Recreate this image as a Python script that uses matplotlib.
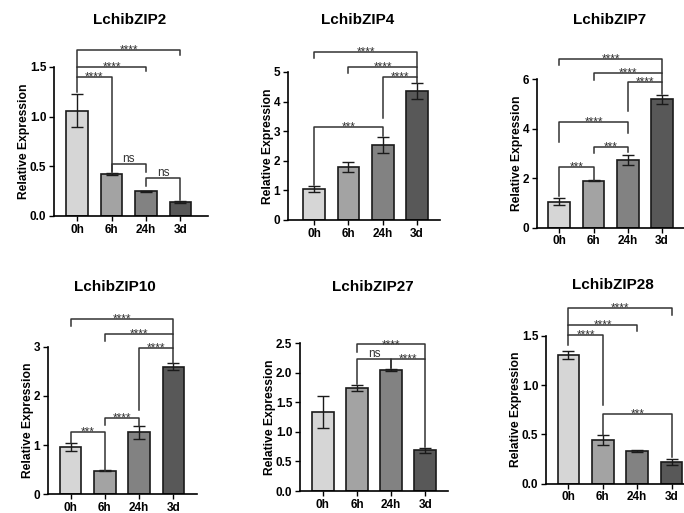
import matplotlib
matplotlib.use('Agg')
import matplotlib.pyplot as plt
from matplotlib.transforms import offset_copy

plt.rcParams['font.family'] = ['Liberation Sans', 'DejaVu Sans']

times = ['0h', '6h', '24h', '3d']
genes = ['LchibZIP2', 'LchibZIP4', 'LchibZIP7', 'LchibZIP10', 'LchibZIP27', 'LchibZIP28']

zip2_mean = [1.06, 0.42, 0.25, 0.14]
zip2_err = [0.165, 0.01, 0.005, 0.01]
zip4_mean = [1.05, 1.78, 2.52, 4.35]
zip4_err = [0.10, 0.17, 0.27, 0.27]
zip7_mean = [1.05, 1.90, 2.72, 5.20]
zip7_err = [0.15, 0.03, 0.20, 0.18]
zip10_mean = [0.96, 0.48, 1.26, 2.59]
zip10_err = [0.08, 0.01, 0.13, 0.07]
zip27_mean = [1.33, 1.74, 2.05, 0.69]
zip27_err = [0.27, 0.05, 0.02, 0.04]
zip28_mean = [1.30, 0.44, 0.33, 0.22]
zip28_err = [0.04, 0.05, 0.01, 0.035]

# significance: (group a, group b, label)
zip2_sig = [(0, 3, '****'), (0, 2, '****'), (0, 1, '****'), (1, 2, 'ns'), (2, 3, 'ns')]
zip4_sig = [(0, 3, '****'), (1, 3, '****'), (2, 3, '****'), (0, 2, '***')]
zip7_sig = [(0, 3, '****'), (1, 3, '****'), (2, 3, '****'), (0, 2, '****'), (1, 2, '***'), (0, 1, '***')]
zip10_sig = [(0, 3, '****'), (1, 3, '****'), (2, 3, '****'), (1, 2, '****'), (0, 1, '***')]
zip27_sig = [(1, 3, '****'), (1, 2, 'ns'), (2, 3, '****')]
zip28_sig = [(0, 3, '****'), (0, 2, '****'), (0, 1, '****'), (1, 3, '***')]

# bracket geometry: (bar y, left leg end, right leg end)
zip2_br = [(1.67, 1.50, 1.62), (1.50, 1.40, 1.46), (1.40, 1.25, 0.43), (0.52, 0.45, 0.44), (0.38, 0.30, 0.16)]
zip4_br = [(5.69, 5.46, 5.18), (5.18, 4.97, 4.82), (4.82, 3.43, 4.62), (3.15, 1.18, 2.83)]
zip7_br = [(6.82, 6.59, 6.25), (6.25, 5.98, 5.89), (5.89, 4.70, 5.42), (4.27, 3.48, 3.82),
           (3.28, 3.01, 3.06), (2.45, 1.30, 1.93)]
zip10_br = [(3.56, 3.43, 3.25), (3.25, 3.11, 2.97), (2.97, 1.71, 2.66), (1.56, 1.41, 1.39), (1.27, 1.05, 0.48)]
zip27_br = [(2.48, 2.36, 2.23), (2.23, 1.81, 2.08), (2.23, 2.08, 0.74)]
zip28_br = [(1.78, 1.61, 1.71), (1.61, 1.51, 1.55), (1.51, 1.41, 0.80), (0.71, 0.49, 0.27)]

means = [zip2_mean, zip4_mean, zip7_mean, zip10_mean, zip27_mean, zip28_mean]
errs = [zip2_err, zip4_err, zip7_err, zip10_err, zip27_err, zip28_err]
sigs = [zip2_sig, zip4_sig, zip7_sig, zip10_sig, zip27_sig, zip28_sig]
brs = [zip2_br, zip4_br, zip7_br, zip10_br, zip27_br, zip28_br]

W, H = 684, 513
# axes boxes in pixels: left, top, right, bottom
boxes = [(54, 67, 208, 216), (288, 72, 440, 220), (537, 79.3, 684, 227.7),
         (48, 346.7, 197, 494.3), (300, 343.3, 448, 491), (546, 335.7, 684, 483.7)]
xlims = [(-0.67, 3.8), (-0.76, 3.67), (-0.65, 3.64), (-0.66, 3.69), (-0.67, 3.67), (-0.65, 3.36)]
ylims = [1.5, 5, 6, 3, 2.5, 1.5]
yticks = [[0, 0.5, 1.0, 1.5], [0, 1, 2, 3, 4, 5], [0, 2, 4, 6], [0, 1, 2, 3],
          [0, 0.5, 1.0, 1.5, 2.0, 2.5], [0, 0.5, 1.0, 1.5]]
yfmt = ['%.1f', '%d', '%d', '%d', '%.1f', '%.1f']
titles_px = [(130, 20), (358, 20), (610, 20), (115, 287), (373, 287), (613, 285)]
colors = ['#d6d6d6', '#a3a3a3', '#828282', '#585858']

fig = plt.figure(figsize=(W / 100, H / 100), dpi=100)

for k in range(6):
    l, t, r, b = boxes[k]
    ax = fig.add_axes([l / W, 1 - b / H, (r - l) / W, (b - t) / H])
    x = list(range(4))
    ax.bar(x, means[k], width=0.63, color=colors, edgecolor='#1a1a1a', linewidth=1.2, zorder=2)
    ax.errorbar(x, means[k], yerr=errs[k], fmt='none', ecolor='#1a1a1a', elinewidth=1.0,
                capsize=4.3, capthick=1.0, zorder=3)
    ax.set_xlim(*xlims[k])
    ax.set_ylim(0, ylims[k])
    ax.set_xticks(x)
    ax.set_xticklabels(times, fontsize=8.5, fontweight='bold')
    ax.set_yticks(yticks[k])
    ax.set_yticklabels([yfmt[k] % v for v in yticks[k]], fontsize=8.5, fontweight='bold')
    ax.tick_params(axis='both', length=3.5, width=1.0, pad=2)
    for s in ['top', 'right']:
        ax.spines[s].set_visible(False)
    for s in ['left', 'bottom']:
        ax.spines[s].set_linewidth(1.2)
    ax.set_ylabel('Relative Expression', fontsize=8.7, fontweight='bold', labelpad=0)

    star_tr = offset_copy(ax.transData, fig=fig, y=-3.5, units='dots')
    ns_tr = offset_copy(ax.transData, fig=fig, y=2, units='dots')
    for (i, j, lab), (yb, yi, yj) in zip(sigs[k], brs[k]):
        ax.plot([i, i, j, j], [yi, yb, yb, yj], color='#333333', lw=1.1, clip_on=False, zorder=4)
        tr = ns_tr if lab == 'ns' else star_tr
        ax.text((i + j) / 2, yb, lab, ha='center', va='baseline', fontsize=8.5,
                color='#333333', transform=tr, clip_on=False)

    tx, ty = titles_px[k]
    fig.text(tx / W, 1 - ty / H, genes[k], ha='center', va='center', fontsize=11, fontweight='bold')

fig.savefig('out.png', dpi=100)
